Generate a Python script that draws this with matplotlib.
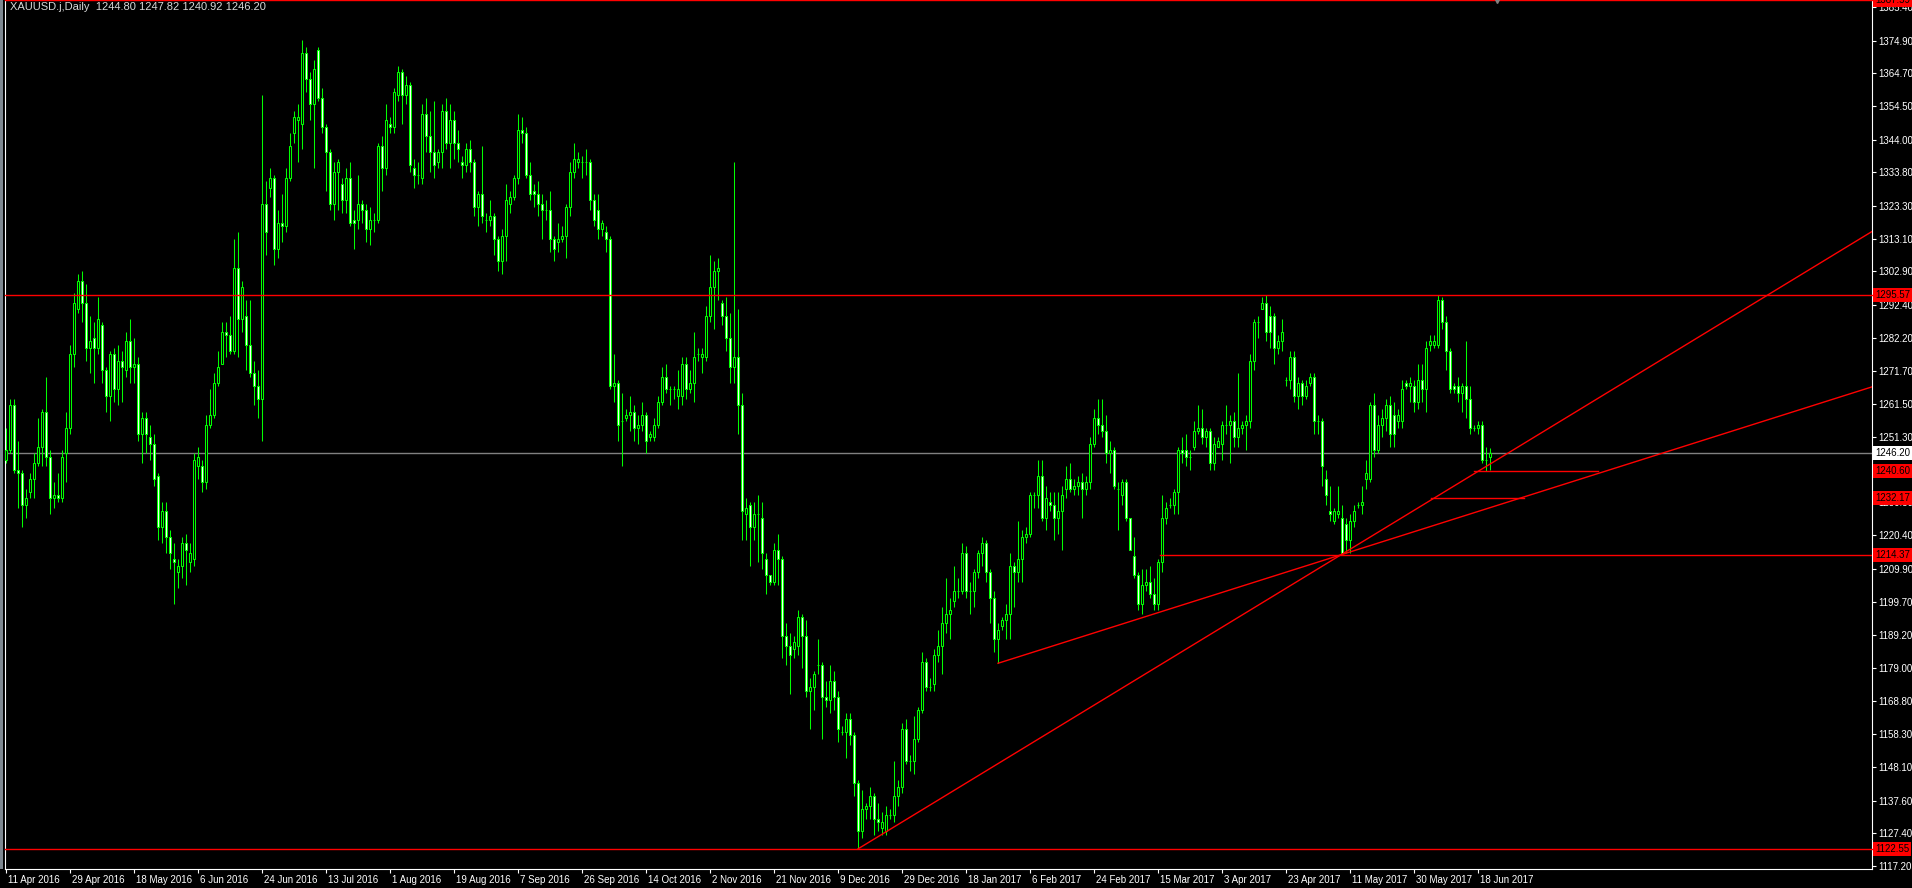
"""
XAUUSD daily candles (Apr 2016 - Jun 2017) in the MT4 'green on black' look,
with the drawn support/resistance levels and the two rising trend lines.
"""
import matplotlib
matplotlib.use("Agg")
import matplotlib.pyplot as plt
import matplotlib.transforms as mtransforms
from matplotlib.patches import Rectangle

W, H, DPI = 1912, 888, 100

SYMBOL = "XAUUSD.j,Daily"
LAST_BAR = "1244.80 1247.82 1240.92 1246.20"

# daily bars, oldest first
opens = [
    1244, 1247, 1261, 1241, 1240, 1230, 1234, 1238, 1243, 1248,
    1259, 1245, 1232, 1233, 1232, 1246, 1254, 1277, 1291, 1300,
    1293, 1279, 1282, 1279, 1286, 1272, 1264, 1277, 1266, 1275,
    1272, 1281, 1273, 1274, 1252, 1257, 1251, 1249, 1239, 1223,
    1228, 1220, 1213, 1209, 1211, 1218, 1212, 1213, 1242, 1242,
    1237, 1255, 1258, 1268, 1274, 1284, 1283, 1278, 1304, 1288,
    1289, 1280, 1271, 1267, 1263, 1324, 1329, 1332, 1310, 1318,
    1317, 1332, 1346, 1350, 1349, 1371, 1363, 1355, 1372, 1357,
    1348, 1340, 1324, 1334, 1330, 1325, 1332, 1319, 1319, 1324,
    1322, 1316, 1319, 1319, 1342, 1335, 1349, 1348, 1358, 1365,
    1358, 1361, 1335, 1333, 1332, 1352, 1345, 1340, 1337, 1340,
    1353, 1343, 1350, 1343, 1337, 1336, 1341, 1337, 1323, 1327,
    1319, 1319, 1320, 1313, 1306, 1314, 1324, 1326, 1332, 1347,
    1346, 1333, 1328, 1327, 1324, 1322, 1322, 1313, 1312, 1313,
    1314, 1323, 1334, 1337, 1337, 1337, 1337, 1325, 1322, 1316,
    1315, 1313, 1267, 1268, 1256, 1257, 1258, 1259, 1254, 1255,
    1258, 1251, 1251, 1255, 1262, 1270, 1266, 1266, 1264, 1264,
    1274, 1266, 1268, 1277, 1276, 1276, 1289, 1298, 1303, 1293,
    1289, 1282, 1273, 1276, 1261, 1227, 1230, 1223, 1227, 1226,
    1213, 1208, 1206, 1216, 1213, 1189, 1186, 1185, 1186, 1195,
    1189, 1172, 1173, 1180, 1180, 1170, 1169, 1175, 1170, 1159,
    1159, 1163, 1158, 1143, 1128, 1135, 1136, 1139, 1132, 1129,
    1128, 1133, 1133, 1139, 1142, 1160, 1150, 1150, 1157, 1166,
    1181, 1173, 1174, 1183, 1186, 1193, 1196, 1200, 1203, 1203,
    1215, 1203, 1203, 1209, 1215, 1218, 1209, 1201, 1188, 1192,
    1194, 1196, 1211, 1209, 1213, 1220, 1221, 1233, 1233, 1239,
    1226, 1231, 1230, 1226, 1228, 1235, 1238, 1235, 1236, 1237,
    1235, 1237, 1249, 1257, 1255, 1253, 1246, 1247, 1235, 1233,
    1237, 1226, 1214, 1208, 1199, 1205, 1206, 1202, 1199, 1212,
    1226, 1230, 1230, 1234, 1247, 1247, 1245, 1248, 1253, 1254,
    1251, 1253, 1243, 1248, 1249, 1255, 1255, 1256, 1251, 1254,
    1255, 1256, 1275, 1287, 1291, 1293, 1289, 1289, 1279, 1281,
    1269, 1269, 1276, 1264, 1268, 1264, 1268, 1270, 1256, 1256,
    1238, 1228, 1225, 1227, 1226, 1224, 1219, 1225, 1230, 1230,
    1238, 1238, 1261, 1247, 1255, 1257, 1261, 1258, 1256, 1256,
    1268, 1267, 1267, 1262, 1269, 1266, 1280, 1280, 1280, 1294,
    1287, 1278, 1267, 1267, 1265, 1267, 1263, 1254, 1254, 1255,
    1244, 1244.80,
]
highs = [
    1254, 1263, 1263, 1250, 1241, 1235, 1240, 1246, 1257, 1260,
    1270, 1247, 1237, 1240, 1247, 1259, 1280, 1296, 1302, 1303,
    1299, 1289, 1287, 1295, 1287, 1273, 1278, 1279, 1280, 1278,
    1284, 1288, 1282, 1276, 1259, 1259, 1255, 1252, 1240, 1231,
    1231, 1222, 1218, 1213, 1220, 1221, 1218, 1246, 1248, 1244,
    1258, 1266, 1271, 1278, 1287, 1287, 1289, 1313, 1315, 1300,
    1294, 1294, 1275, 1272, 1358, 1331, 1335, 1333, 1322, 1327,
    1335, 1346, 1353, 1355, 1375, 1373, 1365, 1369, 1373, 1360,
    1349, 1341, 1337, 1338, 1332, 1335, 1337, 1322, 1333, 1325,
    1324, 1323, 1321, 1343, 1345, 1355, 1351, 1360, 1367, 1366,
    1364, 1362, 1338, 1337, 1355, 1357, 1353, 1356, 1341, 1355,
    1357, 1355, 1353, 1347, 1339, 1343, 1344, 1338, 1328, 1342,
    1321, 1325, 1321, 1314, 1316, 1330, 1328, 1333, 1352, 1351,
    1348, 1337, 1330, 1331, 1327, 1325, 1328, 1314, 1318, 1317,
    1324, 1337, 1343, 1340, 1339, 1341, 1338, 1327, 1327, 1319,
    1317, 1314, 1277, 1269, 1265, 1260, 1264, 1261, 1258, 1262,
    1259, 1253, 1257, 1264, 1273, 1274, 1267, 1267, 1272, 1276,
    1276, 1272, 1284, 1279, 1279, 1292, 1308, 1306, 1307, 1294,
    1295, 1290, 1337, 1291, 1265, 1232, 1231, 1231, 1233, 1231,
    1215, 1208, 1218, 1221, 1214, 1193, 1190, 1189, 1197, 1196,
    1194, 1176, 1178, 1188, 1181, 1175, 1180, 1178, 1172, 1161,
    1165, 1165, 1159, 1144, 1141, 1137, 1142, 1140, 1137, 1134,
    1136, 1135, 1150, 1144, 1162, 1163, 1152, 1164, 1167, 1184,
    1182, 1176, 1185, 1191, 1198, 1207, 1201, 1211, 1207, 1218,
    1217, 1206, 1210, 1216, 1220, 1219, 1210, 1203, 1193, 1195,
    1199, 1215, 1212, 1225, 1222, 1223, 1234, 1234, 1244, 1244,
    1236, 1234, 1234, 1234, 1236, 1242, 1243, 1238, 1239, 1240,
    1239, 1251, 1260, 1263, 1263, 1258, 1250, 1248, 1237, 1238,
    1238, 1226, 1220, 1209, 1210, 1210, 1211, 1207, 1213, 1233,
    1231, 1232, 1235, 1248, 1251, 1252, 1247, 1256, 1261, 1260,
    1254, 1254, 1251, 1251, 1256, 1261, 1258, 1259, 1271, 1256,
    1258, 1277, 1288, 1289, 1295, 1295.5, 1292, 1290, 1283, 1288,
    1270, 1278, 1278, 1270, 1269, 1269, 1271, 1271, 1258, 1257,
    1241, 1236, 1229, 1236, 1230, 1226, 1227, 1230, 1231, 1236,
    1244, 1262, 1265, 1258, 1260, 1263, 1264, 1262, 1260, 1269,
    1269, 1270, 1269, 1274, 1274, 1281, 1283, 1283, 1295.5, 1295,
    1289, 1279, 1268, 1270, 1268, 1281, 1267, 1255, 1256, 1256,
    1248, 1247.82,
]
lows = [
    1243, 1246, 1240, 1229, 1223, 1226, 1232, 1232, 1242, 1242,
    1242, 1227, 1229, 1231, 1231, 1237, 1252, 1273, 1290, 1287,
    1275, 1271, 1268, 1277, 1268, 1259, 1256, 1262, 1261, 1262,
    1270, 1268, 1268, 1250, 1243, 1246, 1244, 1236, 1219, 1218,
    1215, 1210, 1199, 1204, 1207, 1205, 1209, 1211, 1238, 1234,
    1235, 1254, 1257, 1267, 1274, 1276, 1277, 1277, 1276, 1284,
    1272, 1270, 1261, 1257, 1250, 1308, 1326, 1305, 1307, 1312,
    1315, 1331, 1343, 1337, 1341, 1359, 1350, 1335, 1356, 1346,
    1328, 1322, 1319, 1322, 1321, 1321, 1317, 1310, 1316, 1318,
    1312, 1311, 1315, 1318, 1328, 1333, 1346, 1346, 1356, 1349,
    1355, 1334, 1329, 1330, 1330, 1340, 1334, 1332, 1335, 1335,
    1341, 1335, 1338, 1337, 1332, 1334, 1334, 1320, 1317, 1318,
    1315, 1317, 1308, 1303, 1302, 1306, 1321, 1325, 1330, 1343,
    1332, 1325, 1323, 1320, 1313, 1319, 1309, 1306, 1309, 1312,
    1307, 1320, 1332, 1335, 1332, 1333, 1322, 1317, 1313, 1314,
    1309, 1266, 1262, 1250, 1242, 1256, 1253, 1250, 1249, 1253,
    1246, 1250, 1250, 1254, 1261, 1265, 1261, 1263, 1260, 1261,
    1263, 1265, 1262, 1275, 1271, 1275, 1287, 1285, 1294, 1286,
    1278, 1268, 1268, 1252, 1219, 1219, 1211, 1219, 1212, 1210,
    1202, 1205, 1205, 1205, 1182, 1180, 1171, 1182, 1183, 1179,
    1170, 1160, 1166, 1177, 1157, 1167, 1165, 1166, 1156, 1158,
    1151, 1155, 1139, 1122.55, 1126, 1132, 1132, 1127, 1128, 1127,
    1127, 1132, 1131, 1136, 1140, 1149, 1147, 1146, 1156, 1165,
    1172, 1172, 1172, 1181, 1177, 1190, 1188, 1198, 1201, 1202,
    1201, 1196, 1198, 1207, 1211, 1206, 1193, 1184, 1180.5, 1191,
    1188, 1188, 1198, 1206, 1206, 1218, 1220, 1229, 1229, 1225,
    1222, 1228, 1219, 1221, 1216, 1232, 1234, 1233, 1233, 1226,
    1233, 1235, 1248, 1252, 1251, 1243, 1240, 1235, 1222, 1230,
    1225, 1216, 1207, 1197, 1196, 1203, 1201, 1197, 1197, 1209,
    1224, 1229, 1227, 1227, 1243, 1242, 1241, 1247, 1252, 1249,
    1248, 1241, 1241, 1248, 1244, 1252, 1243, 1248, 1248, 1252,
    1247, 1254, 1272, 1282, 1291, 1281, 1279, 1274, 1277, 1278,
    1267, 1266, 1262, 1260, 1261, 1263, 1267, 1252, 1252, 1236,
    1230, 1225, 1224, 1226, 1214.4, 1215, 1215, 1223, 1229, 1227,
    1235, 1237, 1245, 1246, 1251, 1253, 1248, 1248, 1254, 1254,
    1266, 1262, 1259, 1260, 1262, 1259, 1278, 1279, 1279, 1285,
    1272, 1265, 1265, 1262, 1259, 1257, 1252, 1253, 1252, 1243,
    1240.6, 1240.92,
]
closes = [
    1247, 1261, 1241, 1240, 1230, 1232, 1238, 1243, 1248, 1259,
    1245, 1232, 1233, 1232, 1245, 1254, 1277, 1293, 1300, 1293,
    1279, 1281, 1279, 1288, 1272, 1264, 1277, 1266, 1275, 1273,
    1281, 1273, 1274, 1252, 1257, 1252, 1249, 1238, 1223, 1228,
    1220, 1215, 1212, 1211, 1218, 1216, 1215, 1244, 1245, 1237,
    1255, 1258, 1268, 1273, 1284, 1283, 1278, 1304, 1288, 1298,
    1280, 1271, 1267, 1263, 1324, 1315, 1332, 1310, 1318, 1317,
    1332, 1342, 1351, 1351, 1371, 1363, 1355, 1366, 1357, 1348,
    1340, 1324, 1334, 1337, 1325, 1332, 1318, 1318, 1324, 1322,
    1316, 1319, 1319, 1342, 1335, 1350, 1348, 1359, 1365, 1358,
    1361, 1336, 1333, 1333, 1352, 1345, 1340, 1336, 1340, 1353,
    1343, 1350, 1343, 1341, 1336, 1341, 1337, 1323, 1327, 1320,
    1319, 1320, 1313, 1306, 1314, 1325, 1326, 1332, 1347, 1346,
    1333, 1327, 1327, 1324, 1322, 1322, 1313, 1310, 1313, 1314,
    1323, 1334, 1338, 1338, 1337, 1337, 1325, 1319, 1316, 1318,
    1313, 1267, 1268, 1255, 1256, 1258, 1259, 1254, 1255, 1258,
    1250, 1252, 1255, 1262, 1270, 1266, 1266, 1266, 1266, 1274,
    1266, 1268, 1276, 1277, 1277, 1289, 1298, 1303, 1304, 1289,
    1282, 1273, 1276, 1261, 1228, 1229, 1223, 1227, 1227, 1215,
    1208, 1206, 1216, 1213, 1189, 1186, 1183, 1187, 1195, 1189,
    1172, 1173, 1177, 1180, 1170, 1169, 1175, 1170, 1160, 1159,
    1163, 1158, 1143, 1128, 1135, 1136, 1139, 1132, 1131, 1131,
    1133, 1133, 1139, 1142, 1160, 1150, 1150, 1157, 1166, 1181,
    1173, 1173, 1183, 1186, 1193, 1196, 1197, 1203, 1203, 1215,
    1203, 1203, 1209, 1215, 1218, 1209, 1201, 1188, 1191, 1194,
    1196, 1211, 1209, 1213, 1220, 1221, 1233, 1233, 1239, 1226,
    1232, 1230, 1226, 1228, 1233, 1238, 1235, 1236, 1237, 1235,
    1237, 1249, 1257, 1255, 1253, 1246, 1247, 1236, 1235, 1237,
    1226, 1216, 1208, 1199, 1205, 1206, 1202, 1199, 1212, 1226,
    1229, 1230, 1234, 1247, 1246, 1245, 1245, 1253, 1254, 1251,
    1253, 1243, 1249, 1250, 1255, 1255, 1256, 1251, 1254, 1255,
    1256, 1275, 1287, 1287, 1293, 1284, 1284, 1279, 1281, 1284,
    1269, 1276, 1264, 1268, 1264, 1267, 1270, 1256, 1256, 1242,
    1233, 1227, 1228, 1228, 1215, 1219, 1225, 1228, 1230, 1231,
    1240, 1261, 1247, 1255, 1257, 1261, 1252, 1252, 1258, 1266,
    1267, 1268, 1262, 1269, 1266, 1279, 1281, 1281, 1294, 1287,
    1278, 1266, 1266, 1265, 1267, 1263, 1254, 1254, 1255, 1244,
    1244, 1246.20,
]

date_labels = [
    "11 Apr 2016", "29 Apr 2016", "18 May 2016", "6 Jun 2016",
    "24 Jun 2016", "13 Jul 2016", "1 Aug 2016", "19 Aug 2016",
    "7 Sep 2016", "26 Sep 2016", "14 Oct 2016", "2 Nov 2016",
    "21 Nov 2016", "9 Dec 2016", "29 Dec 2016", "18 Jan 2017",
    "6 Feb 2017", "24 Feb 2017", "15 Mar 2017", "3 Apr 2017",
    "23 Apr 2017", "11 May 2017", "30 May 2017", "18 Jun 2017",
]
BARS_PER_LABEL = 16

price_ticks = [
    1385.40, 1374.90, 1364.70, 1354.50, 1344.00, 1333.80, 1323.30,
    1313.10, 1302.90, 1292.40, 1282.20, 1271.70, 1261.50, 1251.30,
    1241.00, 1230.80, 1220.40, 1209.90, 1199.70, 1189.20, 1179.00,
    1168.80, 1158.30, 1148.10, 1137.60, 1127.40, 1117.20,
]

# drawn objects
full_levels = [1387.59, 1295.57, 1122.55]
current_price = 1246.20
# (price, first bar, last bar); None = runs to the right edge
level_segments = [(1214.37, 288.5, None), (1240.60, 367, 398), (1232.17, 356.25, 379.5)]
# trend rays: anchor point, second point
trend_rays = [((213, 1122.55), (333.75, 1214.37)),
              ((248, 1180.5), (333.75, 1214.37))]
price_boxes = [1387.59, 1295.57, 1240.60, 1232.17, 1214.37, 1122.55]

GREEN = "#00FF00"
RED = "#FF0000"
FONT = "Liberation Sans"


def main():
    fig = plt.figure(figsize=(W / DPI, H / DPI), dpi=DPI, facecolor="black")
    ax = fig.add_axes([5 / W, 19 / H, 1867 / W, 869 / H], facecolor="black")
    x0, x1 = -0.25, 466.5
    y0, y1 = 1116.27, 1387.59
    ax.set_xlim(x0, x1)
    ax.set_ylim(y0, y1)

    n = len(closes)
    xs = list(range(n))

    # candles: wicks first, bodies on top (bull = black body, bear = white)
    ax.vlines(xs, lows, highs, colors=GREEN, linewidth=0.75, zorder=2)
    heights = [c - o for o, c in zip(opens, closes)]
    fills = ["black" if c >= o else "white" for o, c in zip(opens, closes)]
    ax.bar(xs, heights, bottom=opens, width=0.5, color=fills,
           edgecolor=GREEN, linewidth=0.75, zorder=3)

    # levels
    for p in full_levels:
        ax.axhline(p, color=RED, linewidth=1.0, zorder=4, clip_on=False)
    ax.axhline(current_price, color="#808080", linewidth=1.0, zorder=1)
    for p, a, b in level_segments:
        ax.plot([a, x1 if b is None else b], [p, p], color=RED, lw=1.0, zorder=4)
    for (xa, ya), (xb, yb) in trend_rays:
        slope = (yb - ya) / (xb - xa)
        ax.plot([xa, x1], [ya, ya + slope * (x1 - xa)], color=RED, lw=1.0, zorder=4)

    # chart-shift marker at the top
    ax.plot([372.75], [y1], marker="v", color="#808080", ms=5, clip_on=False, zorder=5)

    # axes styling
    for side in ("left", "bottom", "right"):
        ax.spines[side].set_color("white")
        ax.spines[side].set_linewidth(0.8)
    ax.spines["top"].set_visible(False)

    ax.yaxis.tick_right()
    ax.set_yticks(price_ticks)
    ax.set_yticklabels([f"{p:.2f}" for p in price_ticks])
    ax.tick_params(axis="y", colors="white", length=3, width=0.8, pad=1.5,
                   labelsize=7)

    ax.set_xticks([i * BARS_PER_LABEL for i in range(len(date_labels))])
    ax.set_xticklabels(date_labels, ha="left")
    ax.tick_params(axis="x", colors="white", length=3, width=0.8, pad=1.5,
                   labelsize=7)
    shift = mtransforms.ScaledTranslation(2 / DPI, 0, fig.dpi_scale_trans)
    for lab in ax.get_xticklabels():
        lab.set_transform(lab.get_transform() + shift)
    for lab in ax.get_xticklabels() + ax.get_yticklabels():
        lab.set_family(FONT)

    # price boxes on the scale
    trans = mtransforms.blended_transform_factory(ax.transAxes, ax.transData)
    box_shift = mtransforms.ScaledTranslation(3 / DPI, 0, fig.dpi_scale_trans)
    for p in price_boxes:
        ax.text(1.0, p, f"{p:.2f}", transform=trans + box_shift, ha="left",
                va="center", fontsize=7, family=FONT, color="black",
                bbox=dict(boxstyle="square,pad=0.2", fc=RED, ec="none"),
                clip_on=False, zorder=10)
    ax.text(1.0, current_price, f"{current_price:.2f}", transform=trans + box_shift,
            ha="left", va="center", fontsize=7, family=FONT, color="black",
            bbox=dict(boxstyle="square,pad=0.2", fc="white", ec="none"),
            clip_on=False, zorder=10)

    # title and window border
    fig.text(10 / W, 1 - 7 / H, f"{SYMBOL}  {LAST_BAR}", color="#D8D8D8",
             fontsize=8, family=FONT, va="center", ha="left")
    fig.add_artist(Rectangle((0, 19 / H), 3 / W, 869 / H, transform=fig.transFigure,
                             facecolor="#7d8790", edgecolor="none"))

    fig.savefig("out.png", dpi=DPI, facecolor="black")
    plt.close(fig)


if __name__ == "__main__":
    main()
